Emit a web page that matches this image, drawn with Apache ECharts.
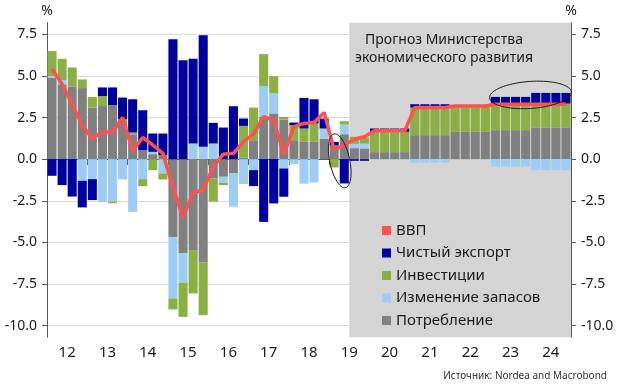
<!DOCTYPE html>
<html>
<head>
<meta charset="utf-8">
<script src="https://cdn.jsdelivr.net/npm/echarts@6/dist/echarts.min.js"></script>
<style>
html,body{margin:0;padding:0;background:#fff;}
#c{width:620px;height:387px;}
</style>
</head>
<body>
<div id="c"></div>
<script>
// ---- data ----
const years = ['12','13','14','15','16','17','18','19','20','21','22','23','24'];
const yTicks = [-10, -7.5, -5, -2.5, 0, 2.5, 5, 7.5];

// Потребление (consumption)
const consumption = [
  4.9, 4.5, 4.37, 4.27,
  3.1, 3.19, 3.25, 2.3,
  1.48, 0.54, 0.3, 0.25,
  -4.7, -5.67, -5.51, -6.21,
  -1.15, -1.06, -0.86, 0.1,
  1.14, 2.54, 2.75, 2.38,
  1.14, 1.04, 1.04, 1.24,
  0.82, 1.5, 0.66, 0.64,
  0.42, 0.42, 0.42, 0.42,
  1.44, 1.44, 1.44, 1.44,
  1.64, 1.64, 1.64, 1.64,
  1.74, 1.74, 1.74, 1.74,
  1.9, 1.9, 1.9, 1.9
];
// Изменение запасов (inventories)
const inventories = [
  0.1, 0.25, 0, -1.3,
  -1.2, -2.57, -2.55, -1.22,
  -3.17, -1.2, 0.14, -0.86,
  -3.67, -1.76, 0.94, 0.74,
  0.94, -0.36, -2.0, -1.5,
  -0.66, 1.85, 1.2, -0.56,
  -0.3, -1.47, -1.4, 0.6,
  0, 0.58, 0.26, 0.3,
  -0.05, -0.05, -0.05, -0.05,
  -0.2, -0.2, -0.2, -0.2,
  0, 0, 0, 0,
  -0.45, -0.45, -0.45, -0.45,
  -0.66, -0.66, -0.66, -0.66
];
// Инвестиции (investment)
const investment = [
  1.5, 1.28, 1.14, 0.52,
  0.64, 0.6, -0.1, 0.1,
  0.12, -0.42, -0.66, -0.36,
  -0.66, -2.05, -2.56, -3.17,
  -1.4, -0.14, 0, 1.9,
  1.96, 1.92, 1.04, 0.16,
  0.9, 0.8, 1.1, 0,
  -0.5, 0.2, 0.42, 0.36,
  1.22, 1.22, 1.22, 1.22,
  1.66, 1.66, 1.66, 1.66,
  1.6, 1.6, 1.6, 1.6,
  1.6, 1.6, 1.6, 1.6,
  1.44, 1.44, 1.44, 1.44
];
// Чистый экспорт (net exports)
const netExports = [
  -1.0, -1.56, -2.25, -1.6,
  -1.26, 0.52, 1.06, 1.3,
  2.0, 2.4, 1.1, 1.29,
  7.2, 5.95, 5.1, 6.7,
  1.24, 1.9, 3.18, 0.44,
  -0.96, -3.77, -2.66, -1.7,
  0.16, 1.84, 1.46, 0.6,
  0.22, -1.46, -0.1, -0.1,
  0.2, 0.2, 0.2, 0.2,
  0.2, 0.2, 0.2, 0.2,
  0, 0, 0, 0,
  0.4, 0.4, 0.4, 0.4,
  0.64, 0.64, 0.64, 0.64
];
// ВВП (GDP)
const gdp = [
  5.4, 4.5, 3.3, 2.0,
  1.25, 1.65, 1.6, 2.5,
  0.5, 1.3, 0.85, 0.35,
  -1.7, -3.5, -2.0, -1.85,
  -0.45, 0.3, 0.35, 1.05,
  1.5, 2.55, 2.35, 0.3,
  1.95, 2.15, 2.2, 2.8,
  0.55, 0.85, 1.2, 1.35,
  1.7, 1.7, 1.7, 1.7,
  3.1, 3.1, 3.1, 3.1,
  3.2, 3.2, 3.2, 3.2,
  3.3, 3.3, 3.3, 3.3,
  3.3, 3.3, 3.3, 3.3
];
const forecastStart = 30; // quarter index where forecast shading begins (2019Q3)

// ---- build ----
const quarters = [];
years.forEach(y => { for (let q = 1; q <= 4; q++) quarters.push(y + 'Q' + q); });

// annotation ellipses (center in data units, radii in px)
const ellipses = [
  { c: [29.05, -0.1], rx: 10, ry: 27.5, rot: 0.21 },
  { c: [47.98, 3.86], rx: 41, ry: 13.5, rot: 0.07 }
];

const FONT = 'Noto Sans';
const TXT = '#1a1a1a';
const C_GRAY = '#808080', C_LB = '#9DCDF5', C_GREEN = '#8BAE45', C_DB = '#00009E', C_RED = '#FF5050';

const chart = echarts.init(document.getElementById('c'), null, { renderer: 'canvas' });

function barSeries(name, data, color) {
  return {
    name, type: 'bar', stack: 'gdp', data,
    xAxisIndex: 0, yAxisIndex: 0,
    barCategoryGap: '10%',
    itemStyle: { color },
    silent: true
  };
}

const yAxisCommon = {
  type: 'value', min: -10.7, max: 8.2,
  name: '%', nameLocation: 'end', nameGap: 5,
  nameTextStyle: { fontFamily: FONT, fontSize: 14, color: TXT },
  axisLine: { show: true, lineStyle: { color: '#595959', width: 1 } },
  axisTick: { show: true, inside: false, length: 5, customValues: yTicks, lineStyle: { color: '#595959' } },
  axisLabel: { customValues: yTicks, margin: 10, fontFamily: FONT, fontSize: 14, color: TXT,
    formatter: v => v.toFixed(1) }
};

chart.setOption({
  animation: false,
  backgroundColor: '#fff',
  grid: { left: 47, right: 49, top: 22.7, bottom: 49.8, containLabel: false },
  xAxis: [
    { type: 'category', data: quarters, show: false, boundaryGap: true },
    { type: 'category', data: years, position: 'bottom', boundaryGap: true,
      axisLine: { show: true, lineStyle: { color: '#595959' } },
      axisTick: { show: true, alignWithLabel: false, length: 6, lineStyle: { color: '#595959' } },
      axisLabel: { margin: 8, fontFamily: FONT, fontSize: 15, color: TXT },
      splitLine: { show: false } },
    { type: 'value', min: 0, max: 52, show: false }
  ],
  yAxis: [
    Object.assign({}, yAxisCommon, { position: 'left',
      splitLine: { show: true, lineStyle: { color: '#D9D9D9', width: 1 } } }),
    Object.assign({}, yAxisCommon, { position: 'right', splitLine: { show: false } })
  ],
  legend: {
    orient: 'vertical', left: 382, top: 223, padding: 0,
    itemWidth: 9, itemHeight: 9, itemGap: 7.5,
    textStyle: { fontFamily: FONT, fontSize: 15, color: TXT },
    data: [
      { name: 'ВВП', icon: 'rect' },
      { name: 'Чистый экспорт', icon: 'rect' },
      { name: 'Инвестиции', icon: 'rect' },
      { name: 'Изменение запасов', icon: 'rect' },
      { name: 'Потребление', icon: 'rect' }
    ],
    selectedMode: false
  },
  graphic: [
    { type: 'text', x: 444, y: 31, z: 100,
      style: { text: 'Прогноз Министерства\nэкономического развития', textAlign: 'center', textVerticalAlign: 'top',
        fontFamily: FONT, fontSize: 14, lineHeight: 18, fill: TXT } },
    { type: 'text', x: 607, y: 376, z: 100,
      style: { text: 'Источник: Nordea and Macrobond', textAlign: 'right', textVerticalAlign: 'middle',
        fontFamily: FONT, fontSize: 10, fill: '#333' } }
  ],
  series: [
    barSeries('Потребление', consumption, C_GRAY),
    barSeries('Изменение запасов', inventories, C_LB),
    barSeries('Инвестиции', investment, C_GREEN),
    barSeries('Чистый экспорт', netExports, C_DB),
    { name: 'ВВП', type: 'line', data: gdp, xAxisIndex: 0, yAxisIndex: 0, z: 5,
      symbol: 'none', silent: true,
      lineStyle: { color: C_RED, width: 3.5 }, itemStyle: { color: C_RED } },
    { name: 'annotations', type: 'custom', xAxisIndex: 2, yAxisIndex: 0, z: 8, silent: true,
      data: ellipses.map(e => e.c),
      markArea: { silent: true, itemStyle: { color: '#D4D4D4', opacity: 1 },
        data: [[{ xAxis: forecastStart }, { xAxis: 52 }]] },
      renderItem: (params, api) => {
        const e = ellipses[params.dataIndex];
        const c = api.coord([api.value(0), api.value(1)]);
        const pts = [];
        const cr = Math.cos(e.rot), sr = Math.sin(e.rot);
        for (let i = 0; i <= 72; i++) {
          const t = i / 72 * Math.PI * 2;
          const x = e.rx * Math.cos(t), y = e.ry * Math.sin(t);
          pts.push([c[0] + x * cr + y * sr, c[1] - x * sr + y * cr]);
        }
        return { type: 'polyline', shape: { points: pts },
          style: { fill: 'none', stroke: '#1a1a1a', lineWidth: 1 } };
      } }
  ]
});
</script>
</body>
</html>
